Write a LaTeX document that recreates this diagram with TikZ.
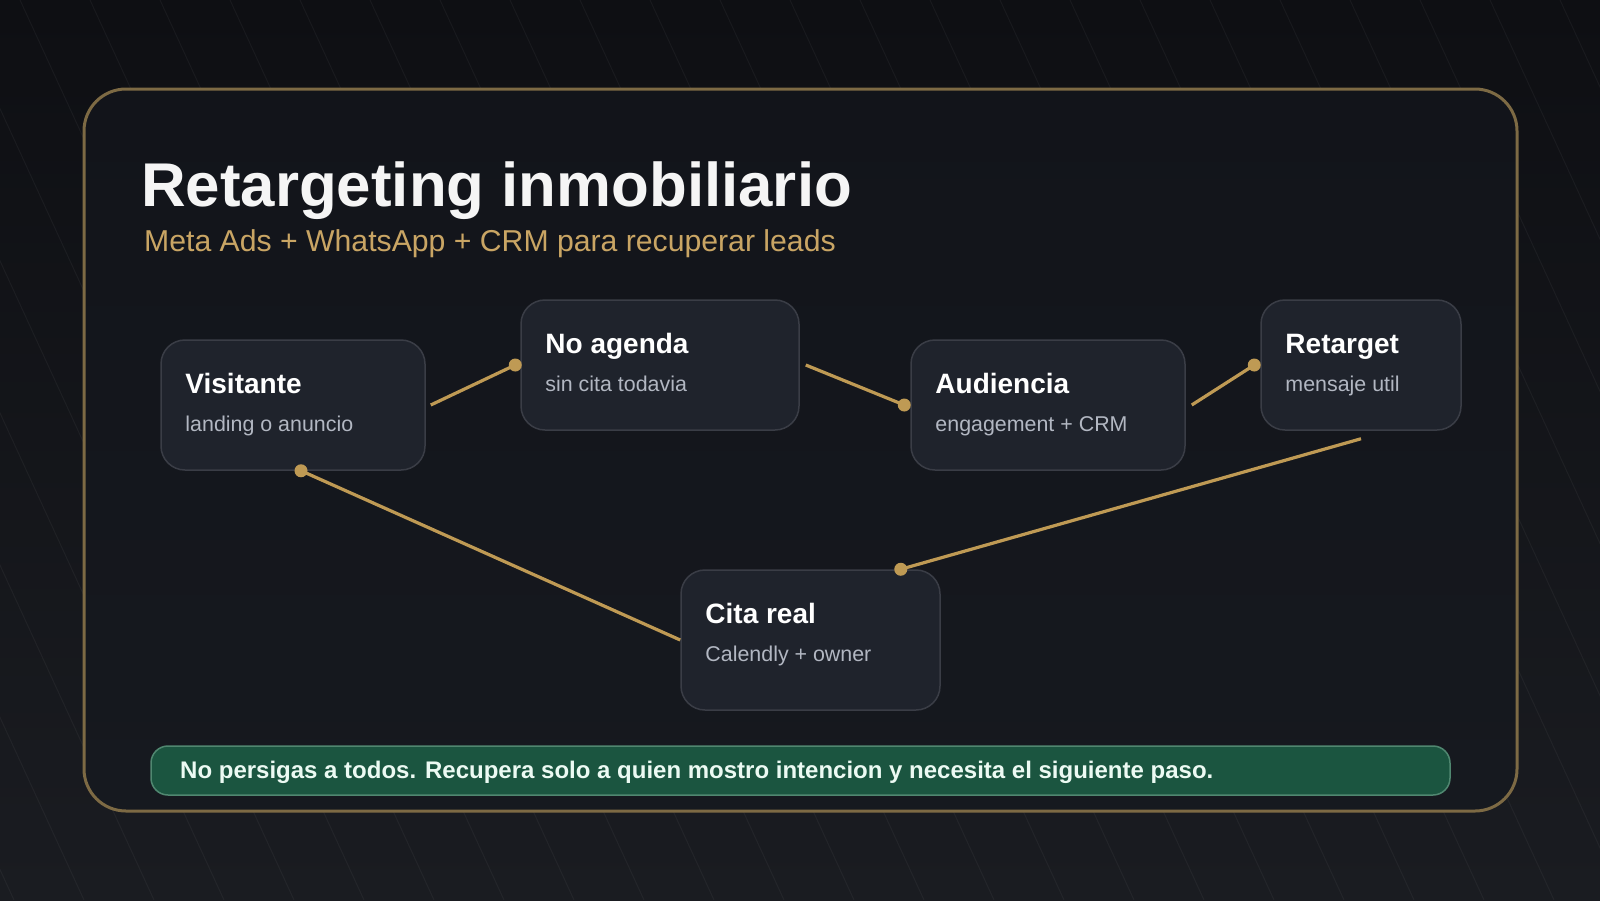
\documentclass[tikz,border=0pt]{standalone}
\usepackage{fontspec}
\setmainfont{Liberation Sans}
\usetikzlibrary{positioning}
\definecolor{pagetop}{RGB}{14,15,19}
\definecolor{pagebot}{RGB}{26,28,33}
\definecolor{paneltop}{RGB}{18,20,26}
\definecolor{panelbot}{RGB}{22,25,31}
\definecolor{framecolor}{RGB}{125,106,68}
\definecolor{goldcolor}{RGB}{191,154,84}
\definecolor{subcolor}{RGB}{201,165,100}
\definecolor{boxcolor}{RGB}{31,35,44}
\definecolor{boxedge}{RGB}{58,61,70}
\definecolor{greytext}{RGB}{178,183,194}
\definecolor{notefill}{RGB}{27,85,64}
\definecolor{noteedge}{RGB}{80,135,112}
\definecolor{notetext}{RGB}{236,250,243}

\begin{document}
\begin{tikzpicture}[x=1pt,y=-1pt,
    stage/.style={draw=boxedge,line width=1.5pt,fill=boxcolor,rounded corners=24pt,inner sep=0pt},
    stagetitle/.style={anchor=base west,inner sep=0pt,text=white,font=\fontsize{28}{32}\selectfont\bfseries},
    stagesub/.style={anchor=base west,inner sep=0pt,text=greytext,font=\fontsize{21.4}{26}\selectfont},
    link/.style={goldcolor,line width=3.2pt},
    dot/.style={circle,fill=goldcolor,inner sep=0pt,minimum size=13pt}]
    \useasboundingbox (0,0) rectangle (1600,900);
    \shade[top color=pagetop,bottom color=pagebot] (0,0) rectangle (1600,900);
    \begin{scope}
      \clip (0,0) rectangle (1600,900);
      \foreach \x in {-420,-350,...,1610}
        \draw[white,opacity=0.045,line width=1pt] (\x+20,0) -- (\x+434,900);
    \end{scope}
    \shade[top color=paneltop,bottom color=panelbot,rounded corners=42pt] (84,89) rectangle (1517,811);
    \draw[framecolor,line width=3pt,rounded corners=42pt] (84,89) rectangle (1517,811);

    \node[anchor=base west,inner sep=0pt,text=white!96!black,font=\fontsize{61.8}{70}\selectfont\bfseries] (title) at (141,206) {Retargeting inmobiliario};
    \node[anchor=base west,inner sep=0pt,text=subcolor,font=\fontsize{30.2}{36}\selectfont] (subtitle) at (144,251) {Meta Ads + WhatsApp + CRM para recuperar leads};

    \foreach \n/\cx/\cy/\w/\h/\t/\s in {
        vis/293/405/264/130/Visitante/landing o anuncio,
        noag/660/365/278/130/No agenda/sin cita todavia,
        aud/1048/405/274/130/Audiencia/engagement + CRM,
        ret/1361/365/200/130/Retarget/mensaje util,
        cita/810.5/640/259/140/Cita real/Calendly + owner}
    {
      \node[stage,minimum width=\w pt,minimum height=\h pt] (\n) at (\cx,\cy) {};
      \node[stagetitle] (\n-title) at ([xshift=25pt,yshift=-54pt]\n.north west) {\t};
      \node[stagesub] (\n-sub) at ([xshift=25pt,yshift=-92pt]\n.north west) {\s};
    }

    \draw[link] ([xshift=5pt]vis.east) -- ([xshift=-5pt]noag.west) node[dot] {};
    \draw[link] ([xshift=6pt]noag.east) -- ([xshift=-6pt]aud.west) node[dot] {};
    \draw[link] ([xshift=6pt]aud.east) -- ([xshift=-6pt]ret.west) node[dot] {};
    \draw[link] ([yshift=-8pt]ret.south) -- ([xshift=-40pt]cita.north east) node[dot] {};
    \draw[link] (cita.west) -- ([xshift=8pt]vis.south) node[dot] {};

    \node[draw=noteedge,fill=notefill,line width=1.5pt,rounded corners=17pt,minimum width=1299pt,minimum height=49pt,inner sep=0pt] (note) at (800.5,770.5) {};
    \node[anchor=base west,inner sep=0pt,text=notetext,font=\fontsize{24}{28}\selectfont\bfseries] (notetext) at (180,778) {No persigas a todos. Recupera solo a quien mostro intencion y necesita el siguiente paso.};
  \end{tikzpicture}
\end{document}
